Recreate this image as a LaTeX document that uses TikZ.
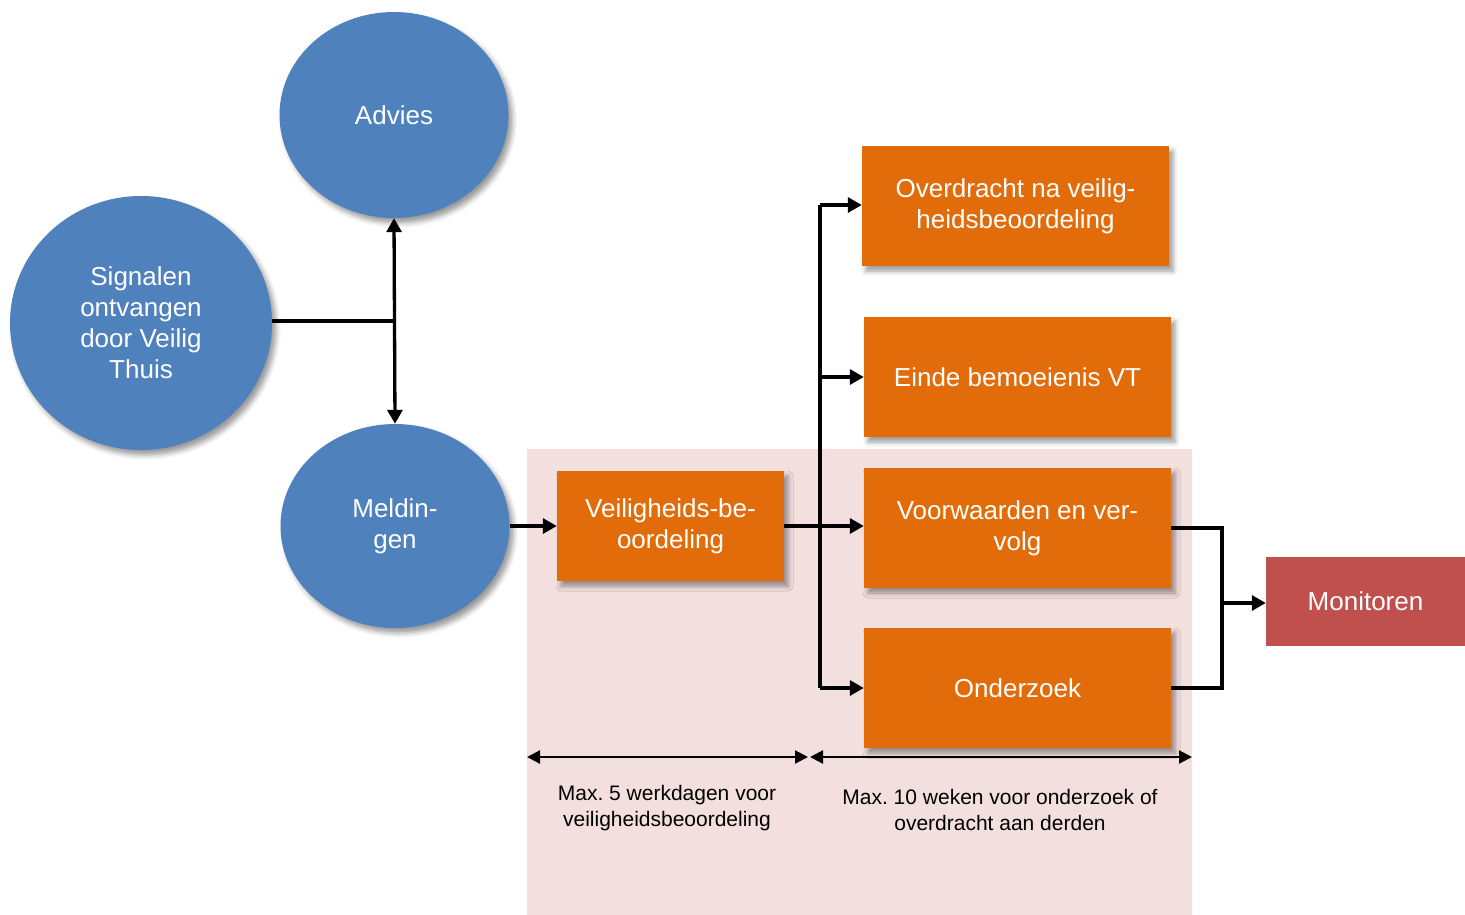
\documentclass[tikz,border=0pt]{standalone}
\usepackage{fontspec}
\setmainfont{Liberation Sans}
\usetikzlibrary{shapes.geometric,arrows.meta,shadows.blur}
\definecolor{vtblue}{HTML}{4F81BD}
\definecolor{vtorange}{HTML}{E36C0A}
\definecolor{vtred}{HTML}{C0504D}
\definecolor{vtpink}{HTML}{F4DFDF}
\frenchspacing
\tikzset{
  shad/.style={blur shadow={shadow xshift=4pt, shadow yshift=-5pt, shadow blur radius=5pt, shadow opacity=40}},
  circ/.style={ellipse, fill=vtblue, inner sep=0pt, text=white, align=center, font=\fontsize{26}{31}\selectfont, shad},
  obox/.style={rectangle, fill=vtorange, inner sep=0pt, text=white, align=center, font=\fontsize{26}{31}\selectfont, shad},
  rbox/.style={rectangle, fill=vtred, inner sep=0pt, text=white, align=center, font=\fontsize{26}{31}\selectfont},
  conn/.style={line width=3.3pt, line join=miter},
  arr/.style={conn, -{Triangle[length=14pt,width=15pt]}},
  darr/.style={conn, {Triangle[length=14pt,width=15pt]}-{Triangle[length=14pt,width=15pt]}},
  tarr/.style={line width=2.2pt, {Triangle[length=13pt,width=13pt]}-{Triangle[length=13pt,width=13pt]}},
  note/.style={align=center, text=black, font=\fontsize{21}{25.5}\selectfont, inner sep=0pt},
}
\begin{document}
\begin{tikzpicture}[x=1pt,y=-1pt]
\useasboundingbox (0,0) rectangle (1465,914);
% pink time region
\node[rectangle, fill=vtpink, inner sep=0pt, minimum width=665pt, minimum height=466pt] (pink) at (859.5,681.5) {};
% circles
\node[circ, minimum width=262pt, minimum height=254pt] (sig) at (141,323) {Signalen\\ontvangen\\door Veilig\\Thuis};
\node[circ, minimum width=229pt, minimum height=206pt] (adv) at (394,115) {Advies};
\node[circ, minimum width=229pt, minimum height=204pt] (mel) at (395,526) {Meldin-\\gen};
% boxes
\node[obox, minimum width=227pt, minimum height=110pt] (vb) at (670.5,526) {Veiligheids-be-\\oordeling};
\node[obox, minimum width=307pt, minimum height=120pt] (ovd) at (1015.5,206) {Overdracht na veilig-\\heidsbeoordeling};
\node[obox, minimum width=307pt, minimum height=120pt] (ein) at (1017.5,377) {Einde bemoeienis VT};
\node[obox, minimum width=307pt, minimum height=120pt] (voo) at (1017.5,528) {Voorwaarden en ver-\\volg};
\node[obox, minimum width=307pt, minimum height=120pt] (ond) at (1017.5,688) {Onderzoek};
\node[rbox, minimum width=199pt, minimum height=89pt] (mon) at (1365.5,601.5) {Monitoren};
% junctions
\coordinate (jn) at (394,321);
\coordinate (bt) at (820,205);
\coordinate (be) at (820,377);
\coordinate (bb) at (820,688);
\coordinate (mj) at (1222,603);
% connectors
\draw[conn] (sig.east |- jn) -- (jn);
\draw[darr] (adv.south) -- (mel.north);
\draw[arr] (mel.east |- vb.west) -- (vb.west);
\draw[arr] (vb.east) -- (voo.west |- vb.east);
\draw[conn] (bt) -- (bb);
\draw[arr] (bt) -- (ovd.west |- bt);
\draw[arr] (be) -- (ein.west);
\draw[arr] (bb) -- (ond.west);
\draw[conn] (voo.east) -| (mj) |- (ond.east);
\draw[arr] (mj) -- (mon.west |- mj);
% time arrows
\coordinate (t1) at (527,757);
\coordinate (t2) at (808,757);
\coordinate (t3) at (810,757);
\coordinate (t4) at (1192,757);
\draw[tarr] (t1) -- (t2);
\draw[tarr] (t3) -- (t4);
\node[note] (n1) at (667,808) {Max. 5 werkdagen voor\\veiligheidsbeoordeling};
\node[note] (n2) at (1000,810) {Max. 10 weken voor onderzoek of\\overdracht aan derden};
\end{tikzpicture}
\end{document}
